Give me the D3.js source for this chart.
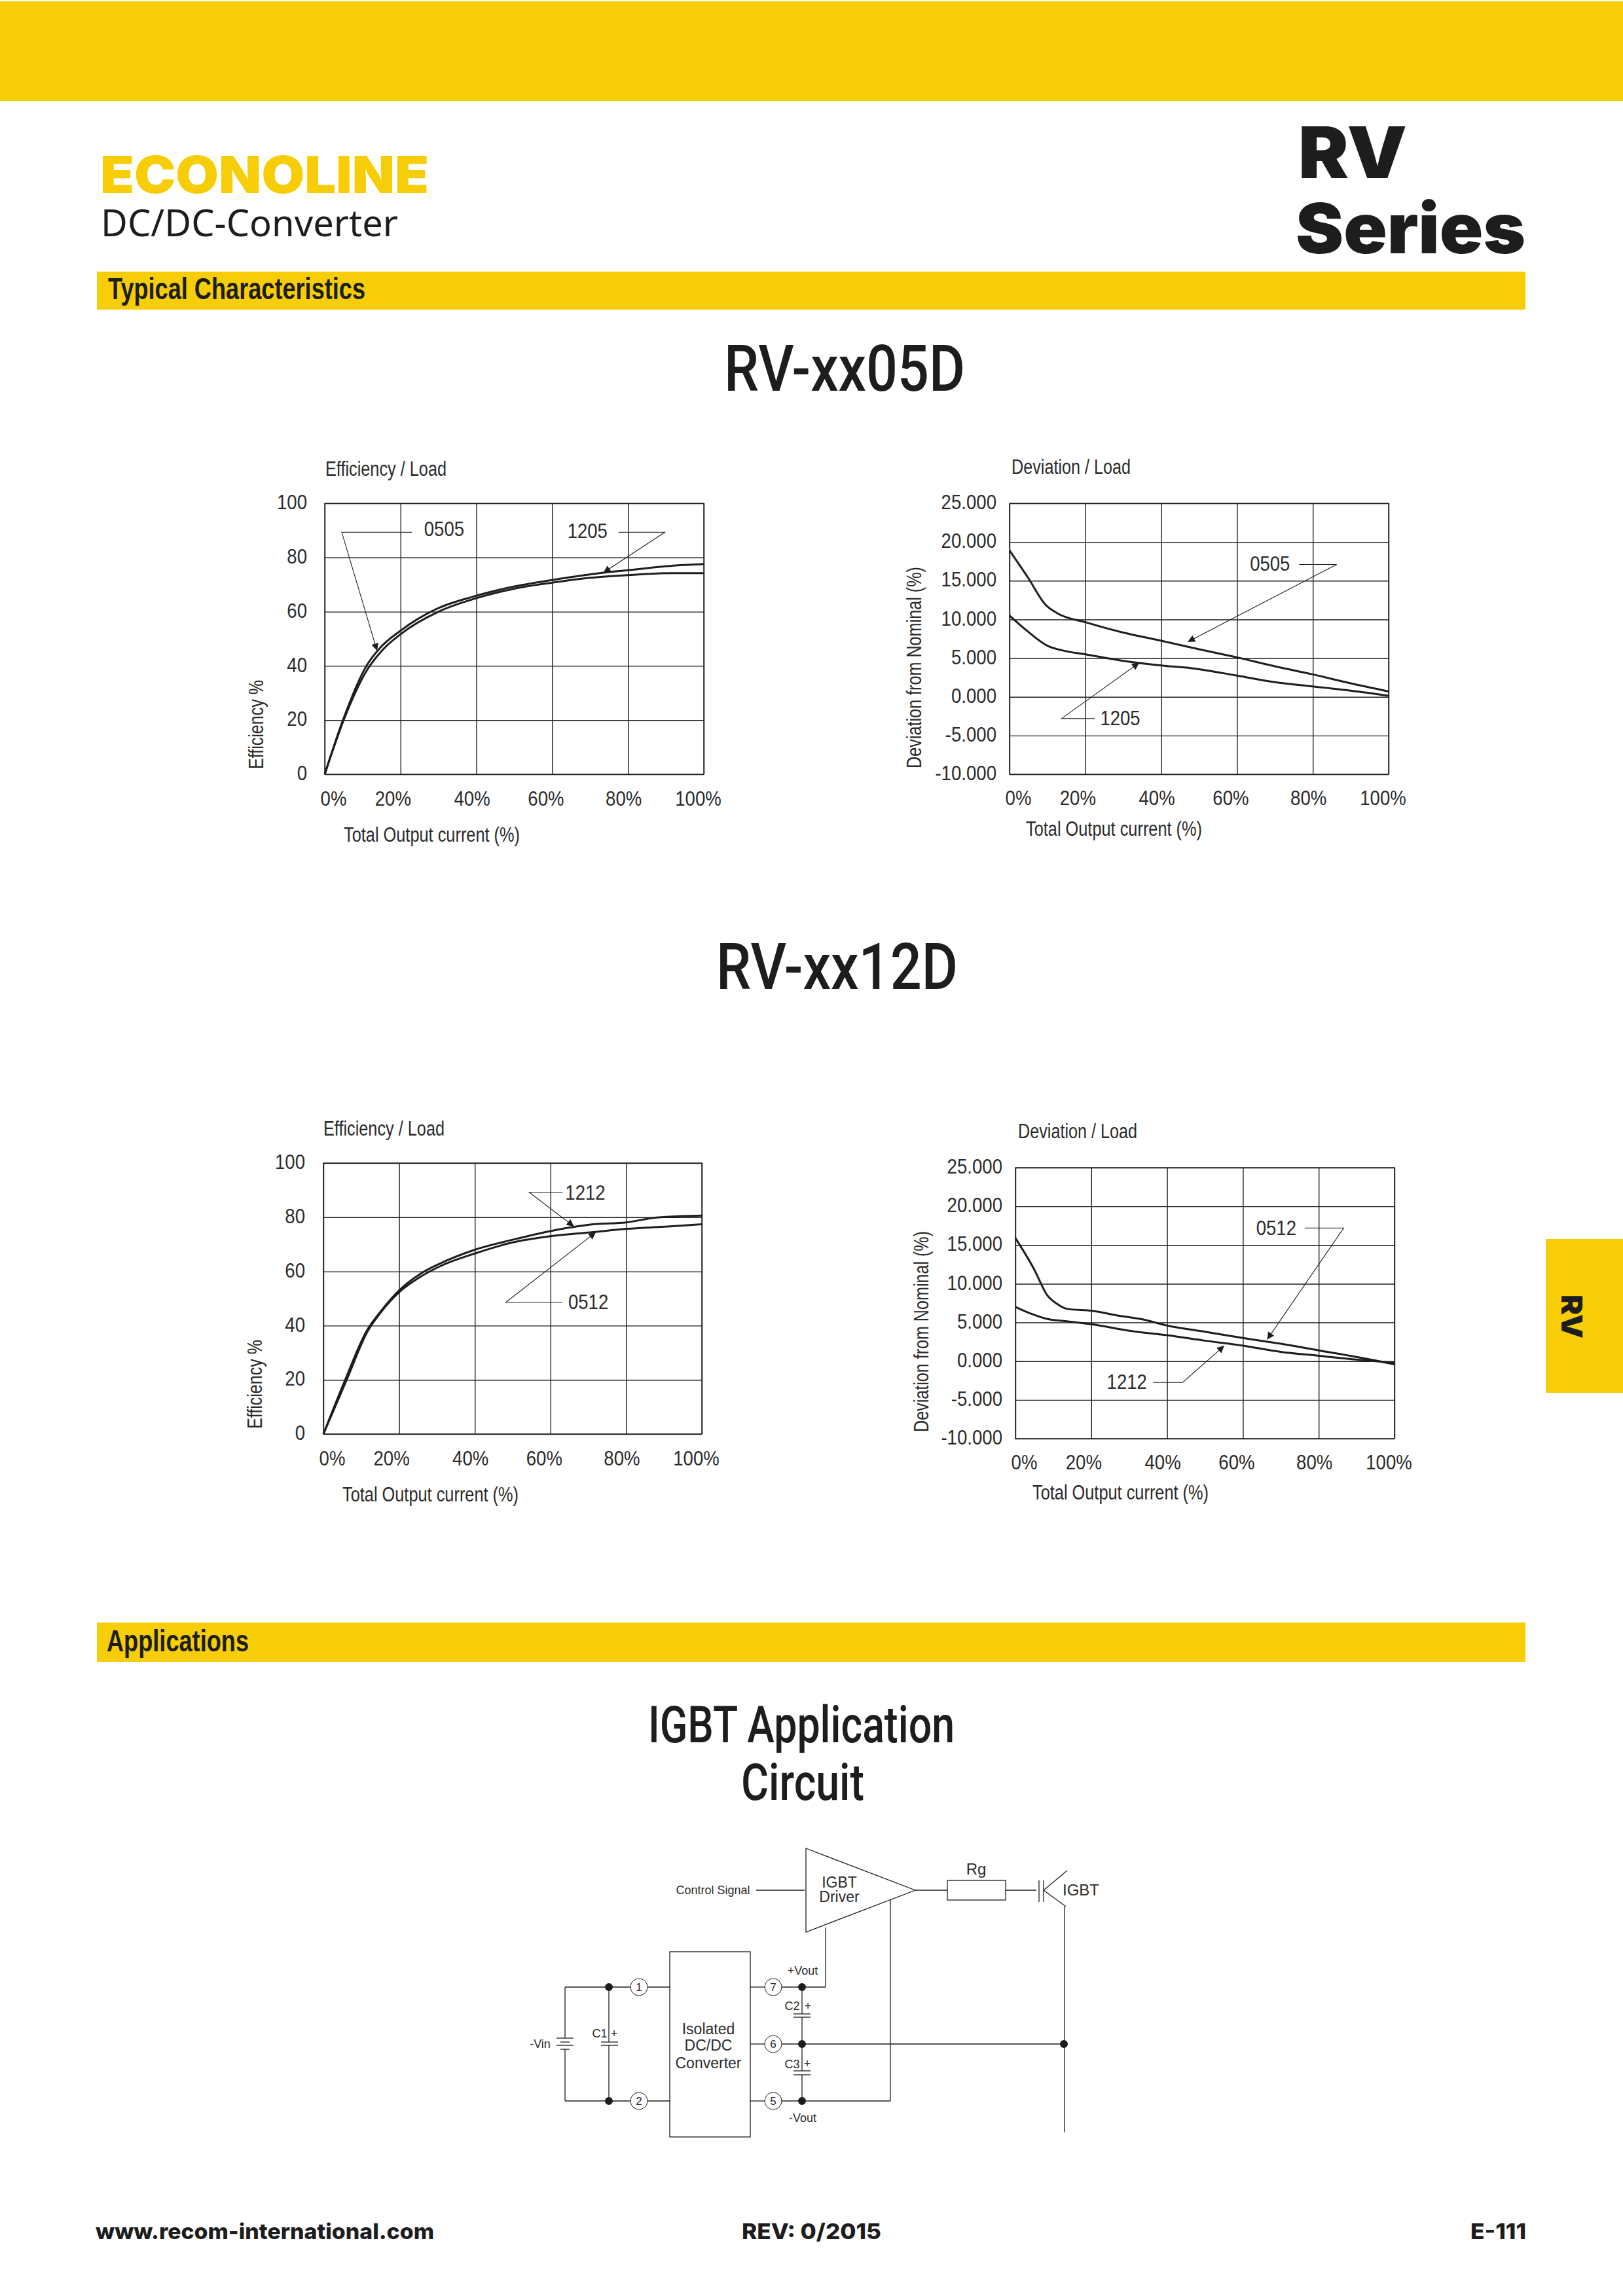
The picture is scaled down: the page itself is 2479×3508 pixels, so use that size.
<!DOCTYPE html>
<html>
<head>
<meta charset="utf-8">
<title>RV Series - Typical Characteristics</title>
<script src="https://cdn.jsdelivr.net/npm/d3@7"></script>
<style>
  html, body { margin: 0; padding: 0; background: #fff; }
  svg { display: block; }
  text { font-family: "Liberation Sans", sans-serif; fill: #2b2b2b; }
</style>
</head>
<body>
<div id="page"></div>
<script>
// axis labels
const loadTicks = [0, 20, 40, 60, 80, 100];
const effTicks = [0, 20, 40, 60, 80, 100];
const devTicks = [-10, -5, 0, 5, 10, 15, 20, 25];

// RV-xx05D efficiency
const effLoad0505 = [0, 5, 11.4, 15, 20, 30, 40, 50, 60, 70, 80, 91, 100];
const eff0505 = [0, 20, 39, 45.5, 51.7, 60, 65, 68.5, 70.7, 72.5, 73.5, 74.2, 74.2];
const effLoad1205 = [0, 4.8, 11, 14.5, 20, 29.5, 39, 49, 60, 73.5, 80, 91, 100];
const eff1205 = [0, 20, 40, 46.5, 53, 61, 65.5, 69, 71.7, 74.4, 75.3, 76.9, 77.6];

// RV-xx05D deviation
const devLoad0505 = [0, 5, 9.5, 12.6, 20.3, 30, 40, 50, 60, 70, 80, 90, 100];
const dev0505 = [18.9, 15.3, 11.9, 10.8, 9.6, 8.3, 7.25, 6.15, 5.1, 3.95, 2.9, 1.75, 0.7];
const devLoad1205 = [0, 4.7, 10, 14.4, 20, 30, 40, 48, 60, 70, 80, 90, 100];
const dev1205 = [10.5, 8.5, 6.6, 5.95, 5.5, 4.65, 4.05, 3.7, 2.75, 1.9, 1.35, 0.8, 0.15];

// RV-xx12D efficiency
const effLoad1212 = [0, 5.6, 11.4, 15, 20, 25.5, 30.8, 40, 50, 60, 71.3, 80, 88, 100];
const eff1212 = [0, 19.5, 38, 45, 53, 59, 62.9, 68, 71.7, 74.9, 77.4, 78.1, 79.9, 80.6];
const effLoad0512 = [0, 6, 11.8, 15, 20, 25.5, 30.8, 40, 50, 60, 71.3, 80, 90, 100];
const eff0512 = [0, 19.5, 38.2, 44.6, 52.3, 57.9, 61.9, 66.6, 70.7, 73, 74.5, 75.7, 76.5, 77.4];

// RV-xx12D deviation
const devLoad0512 = [0, 4.9, 8.4, 11, 13.7, 20.3, 27, 33.5, 40, 50, 60, 70, 80, 90, 100];
const dev0512 = [15.9, 11.9, 8.5, 7.4, 6.75, 6.5, 5.9, 5.4, 4.6, 3.8, 3, 2.25, 1.4, 0.55, -0.4];
const devLoad1212 = [0, 4, 8.4, 12.8, 20.3, 30.4, 40, 50, 60, 70, 80, 90, 100];
const dev1212 = [7, 6.15, 5.45, 5.2, 4.75, 3.9, 3.35, 2.65, 2, 1.2, 0.7, 0.2, -0.2];

const yellow = '#f6cd06';
const ink = '#1d1d1d';
const width = 2479, height = 3508;

const svg = d3.select('#page').append('svg')
  .attr('width', width)
  .attr('height', height)
  .attr('viewBox', `0 0 ${width} ${height}`);

svg.append('rect').attr('width', width).attr('height', height).attr('fill', '#fff');

const defs = svg.append('defs');
defs.append('marker')
  .attr('id', 'arrow')
  .attr('viewBox', '0 0 10 10')
  .attr('refX', 10).attr('refY', 5)
  .attr('markerUnits', 'userSpaceOnUse')
  .attr('markerWidth', 15).attr('markerHeight', 11)
  .attr('orient', 'auto')
  .append('path')
  .attr('d', 'M0,0L10,5L0,10Z')
  .attr('fill', ink);

// text with a fixed drawn width, the brochure fonts are not installed
const fitted = (parent, str, x, y, size, len, opts = {}) => {
  const t = parent.append('text')
    .attr('x', x).attr('y', y)
    .attr('font-size', size)
    .style('font-family', opts.family || null)
    .style('font-weight', opts.weight || null)
    .style('fill', opts.fill || null)
    .attr('textLength', len)
    .attr('lengthAdjust', 'spacingAndGlyphs')
    .text(str);
  return t;
};

// no narrow font here, so squeeze the regular one
const squeeze = (sel, factor) => {
  sel.each(function() {
    d3.select(this)
      .attr('textLength', this.getComputedTextLength() * factor)
      .attr('lengthAdjust', 'spacingAndGlyphs');
  });
};

// ---- page furniture ----
const page = svg.append('g').attr('class', 'page');
page.append('rect').attr('x', 0).attr('y', 2).attr('width', width).attr('height', 152).attr('fill', yellow);
page.append('rect').attr('x', 148).attr('y', 415).attr('width', 2182).attr('height', 58).attr('fill', yellow);
page.append('rect').attr('x', 148).attr('y', 2479).attr('width', 2182).attr('height', 60).attr('fill', yellow);
page.append('rect').attr('x', 2361).attr('y', 1893).attr('width', 118).attr('height', 235).attr('fill', yellow);

fitted(page, 'ECONOLINE', 153, 295, 78, 502, { family: 'Inter', weight: 900, fill: yellow });
fitted(page, 'DC/DC-Converter', 154, 361, 56, 454, { family: '"Noto Sans"', weight: 400, fill: ink });
fitted(page, 'RV', 1983, 272, 108, 166, { family: 'Inter', weight: 900, fill: ink });
fitted(page, 'Series', 1979, 387, 106, 351, { family: 'Inter', weight: 900, fill: ink });
fitted(page, 'Typical Characteristics', 165, 457, 46, 393, { weight: 700, fill: ink });
fitted(page, 'Applications', 163, 2523, 46, 217, { weight: 700, fill: ink });

fitted(page, 'RV-xx05D', 1106, 597, 98, 368, { family: 'Roboto', weight: 500, fill: ink });
fitted(page, 'RV-xx12D', 1094, 1511, 98, 369, { family: 'Roboto', weight: 500, fill: ink });
fitted(page, 'IGBT Application', 990, 2662, 78, 468, { family: 'Roboto', weight: 500, fill: ink });
fitted(page, 'Circuit', 1132, 2750, 78, 188, { family: 'Roboto', weight: 500, fill: ink });

fitted(page, 'www.recom-international.com', 146, 3421, 33, 517, { family: 'Inter', weight: 800, fill: ink });
fitted(page, 'REV: 0/2015', 1133, 3421, 33, 213, { family: 'Inter', weight: 800, fill: ink });
fitted(page, 'E-111', 2246, 3421, 33, 85, { family: 'Inter', weight: 800, fill: ink });

page.append('text')
  .attr('transform', 'translate(2385,1978) rotate(90)')
  .attr('font-size', 44)
  .style('font-family', 'Inter').style('font-weight', 900).style('fill', ink)
  .attr('textLength', 67).attr('lengthAdjust', 'spacingAndGlyphs')
  .text('RV');

// ---- charts ----
const xNudge = [13, -12, -7, -10, -7, -9];

const drawChart = (c) => {
  const w = c.right - c.left, h = c.bottom - c.top;
  const x = d3.scaleLinear().domain([0, 100]).range([0, w]);
  const y = d3.scaleLinear().domain(c.domain).range([h, 0]);
  const g = svg.append('g').attr('transform', `translate(${c.left},${c.top})`);

  // grid comes from the axes, labels get moved afterwards
  const xAxis = g.append('g').attr('transform', `translate(0,${h})`)
    .call(d3.axisBottom(x).tickValues(loadTicks).tickSize(-h).tickPadding(0).tickFormat(d => d + '%'));
  xAxis.selectAll('text')
    .attr('font-size', 31)
    .attr('y', c.xTickY - c.bottom)
    .attr('dy', 0)
    .attr('x', (d, i) => xNudge[i])
    .call(squeeze, 0.89);

  const yAxis = g.append('g')
    .call(d3.axisLeft(y).tickValues(c.ticks).tickSize(-w).tickPadding(0).tickFormat(c.fmt));
  yAxis.selectAll('text')
    .attr('font-size', 31)
    .attr('x', c.yTickX - c.left)
    .attr('dy', '0.28em')
    .attr('text-anchor', 'end')
    .call(squeeze, 0.89);

  g.selectAll('.domain').remove();
  g.selectAll('.tick line').attr('stroke', ink).attr('stroke-width', 1.4);
  g.append('rect').attr('width', w).attr('height', h)
    .attr('fill', 'none').attr('stroke', ink).attr('stroke-width', 1.4);

  // curves
  const line = d3.line().x(d => x(d[0])).y(d => y(d[1])).curve(d3.curveMonotoneX);
  c.series.forEach(s => {
    g.append('path')
      .datum(d3.zip(s.load, s.value))
      .attr('d', line)
      .attr('fill', 'none')
      .attr('stroke', ink)
      .attr('stroke-width', 3);
  });

  // leader lines with the product names
  c.callouts.forEach(k => {
    g.append('path')
      .datum(k.path)
      .attr('d', d3.line().x(d => x(d[0])).y(d => y(d[1])))
      .attr('fill', 'none')
      .attr('stroke', ink)
      .attr('stroke-width', 1.1)
      .attr('marker-end', 'url(#arrow)');
    g.append('text')
      .attr('x', x(k.at[0])).attr('y', y(k.at[1]))
      .attr('dy', '0.36em')
      .attr('text-anchor', 'middle')
      .attr('font-size', 32)
      .text(k.text)
      .call(squeeze, 0.86);
  });

  // chart titles and axis titles
  svg.append('text').attr('x', c.title[0]).attr('y', c.title[1])
    .attr('font-size', 31).attr('textLength', c.title[2]).attr('lengthAdjust', 'spacingAndGlyphs')
    .text(c.titleText);
  svg.append('text').attr('x', c.xLabel[0]).attr('y', c.xLabel[1])
    .attr('font-size', 31).attr('textLength', 269).attr('lengthAdjust', 'spacingAndGlyphs')
    .text('Total Output current (%)');
  svg.append('text')
    .attr('transform', `translate(${c.yLabel[0]},${c.yLabel[1]}) rotate(-90)`)
    .attr('font-size', 31).attr('textLength', c.yLabel[2]).attr('lengthAdjust', 'spacingAndGlyphs')
    .text(c.yLabelText);
};

const fmtEff = d3.format('d');
// the sheet prints a plain hyphen for negatives
const fmtDev = d => d3.format('.3f')(d).replace('\u2212', '-');

drawChart({
  left: 496, right: 1075, top: 769, bottom: 1183,
  domain: [0, 100], ticks: effTicks, fmt: fmtEff,
  xTickY: 1231, yTickX: 469,
  title: [497, 727, 185], titleText: 'Efficiency / Load',
  xLabel: [525, 1286],
  yLabel: [402, 1175, 136], yLabelText: 'Efficiency %',
  series: [{ load: effLoad0505, value: eff0505 }, { load: effLoad1205, value: eff1205 }],
  callouts: [
    { text: '0505', at: [31.5, 90.7], path: [[23, 89.3], [4.5, 89.3], [13.8, 45.6]] },
    { text: '1205', at: [69.3, 90], path: [[77.5, 89.3], [89.7, 89.3], [73.5, 74.4]] }
  ]
});

drawChart({
  left: 1542, right: 2121, top: 769, bottom: 1183,
  domain: [-10, 25], ticks: devTicks, fmt: fmtDev,
  xTickY: 1230, yTickX: 1522,
  title: [1545, 724, 182], titleText: 'Deviation / Load',
  xLabel: [1567, 1277],
  yLabel: [1407, 1174, 308], yLabelText: 'Deviation from Nominal (%)',
  series: [{ load: devLoad0505, value: dev0505 }, { load: devLoad1205, value: dev1205 }],
  callouts: [
    { text: '0505', at: [68.7, 17.27], path: [[76.4, 17.1], [86.3, 17.1], [47, 7.1]] },
    { text: '1205', at: [29.2, -2.68], path: [[22.5, -2.8], [13.7, -2.8], [34.2, 4.4]] }
  ]
});

drawChart({
  left: 494, right: 1072, top: 1777, bottom: 2191,
  domain: [0, 100], ticks: effTicks, fmt: fmtEff,
  xTickY: 2239, yTickX: 466,
  title: [494, 1735, 185], titleText: 'Efficiency / Load',
  xLabel: [523, 2294],
  yLabel: [400, 2183, 136], yLabelText: 'Efficiency %',
  series: [{ load: effLoad1212, value: eff1212 }, { load: effLoad0512, value: eff0512 }],
  callouts: [
    { text: '1212', at: [69.2, 89.2], path: [[63.2, 89.2], [54.4, 89.2], [66.2, 76.6]] },
    { text: '0512', at: [70, 48.8], path: [[63.2, 48.6], [48.2, 48.6], [72, 74.5]] }
  ]
});

drawChart({
  left: 1551, right: 2130, top: 1784, bottom: 2198,
  domain: [-10, 25], ticks: devTicks, fmt: fmtDev,
  xTickY: 2245, yTickX: 1531,
  title: [1555, 1739, 182], titleText: 'Deviation / Load',
  xLabel: [1577, 2291],
  yLabel: [1418, 2188, 307], yLabelText: 'Deviation from Nominal (%)',
  series: [{ load: devLoad0512, value: dev0512 }, { load: devLoad1212, value: dev1212 }],
  callouts: [
    { text: '0512', at: [68.8, 17.27], path: [[76.3, 17.2], [86.6, 17.2], [66.4, 2.8]] },
    { text: '1212', at: [29.4, -2.58], path: [[36.3, -2.75], [44.1, -2.75], [55.1, 2]] }
  ]
});

// ---- IGBT circuit ----
const wires = [
  [863, 3036, 963, 3036], [989, 3036, 1023, 3036],
  [863, 3210, 963, 3210], [989, 3210, 1023, 3210],
  [863, 3036, 863, 3114], [863, 3131, 863, 3210],
  [930, 3036, 930, 3120], [930, 3125, 930, 3210],
  [1146, 3036, 1168, 3036], [1194, 3036, 1261, 3036],
  [1261, 3036, 1261, 2945],
  [1146, 3123, 1168, 3123], [1194, 3123, 1625, 3123],
  [1146, 3210, 1168, 3210], [1194, 3210, 1360, 3210],
  [1360, 3210, 1360, 2903],
  [1225, 3036, 1225, 3077], [1225, 3082, 1225, 3164], [1225, 3170, 1225, 3210],
  [1398, 2888, 1447, 2888], [1536, 2888, 1583, 2888],
  [1155, 2888, 1229, 2888],
  [1594, 2888, 1630, 2858], [1594, 2888, 1628, 2913],
  [1626, 2913, 1626, 3258]
];
const plates = [
  [1587, 2873, 1587, 2906], [1594, 2873, 1594, 2906],
  [918, 3120, 944, 3120], [918, 3125, 944, 3125],
  [1212, 3077, 1238, 3077], [1212, 3082, 1238, 3082],
  [1212, 3164, 1238, 3164], [1212, 3170, 1238, 3170],
  [850, 3114, 876, 3114], [856, 3120, 870, 3120], [850, 3125, 876, 3125], [856, 3131, 870, 3131]
];
const dots = [[930, 3036], [930, 3210], [1225, 3036], [1225, 3123], [1225, 3210], [1625, 3123]];
const pins = [['1', 976, 3036], ['2', 976, 3210], ['7', 1181, 3036], ['6', 1181, 3123], ['5', 1181, 3210]];
const circuitLabels = [
  ['Control Signal', 1089, 2888, 18],
  ['IGBT', 1282, 2876, 23], ['Driver', 1282, 2898, 23],
  ['Rg', 1491, 2855, 24], ['IGBT', 1651, 2887, 24],
  ['Isolated', 1082, 3100, 23], ['DC/DC', 1082, 3125, 23], ['Converter', 1082, 3152, 23],
  ['+Vout', 1226, 3011, 18], ['-Vout', 1226, 3236, 18], ['-Vin', 825, 3123, 18],
  ['C1', 916, 3107, 18], ['+', 938, 3107, 18],
  ['C2', 1210, 3065, 18], ['+', 1234, 3065, 18],
  ['C3', 1210, 3154, 18], ['+', 1233, 3153, 18]
];

const circuit = svg.append('g').attr('class', 'circuit');
circuit.append('path').attr('d', 'M1231,2824L1398,2888L1231,2952Z').attr('fill', 'none').attr('stroke', ink).attr('stroke-width', 1.3);
circuit.append('rect').attr('x', 1447).attr('y', 2873).attr('width', 89).attr('height', 30).attr('fill', 'none').attr('stroke', ink).attr('stroke-width', 1.3);
circuit.append('rect').attr('x', 1023).attr('y', 2982).attr('width', 123).attr('height', 283).attr('fill', 'none').attr('stroke', ink).attr('stroke-width', 1.3);

circuit.selectAll('line.wire').data(wires.concat(plates)).join('line')
  .attr('class', 'wire')
  .attr('x1', d => d[0]).attr('y1', d => d[1]).attr('x2', d => d[2]).attr('y2', d => d[3])
  .attr('stroke', ink).attr('stroke-width', 1.3);
circuit.selectAll('circle.dot').data(dots).join('circle')
  .attr('class', 'dot')
  .attr('cx', d => d[0]).attr('cy', d => d[1]).attr('r', 6).attr('fill', ink);
circuit.selectAll('circle.pin').data(pins).join('circle')
  .attr('class', 'pin')
  .attr('cx', d => d[1]).attr('cy', d => d[2]).attr('r', 13)
  .attr('fill', '#fff').attr('stroke', ink).attr('stroke-width', 1);
circuit.selectAll('text.pin').data(pins).join('text')
  .attr('class', 'pin')
  .attr('x', d => d[1]).attr('y', d => d[2]).attr('dy', '0.36em')
  .attr('text-anchor', 'middle').attr('font-size', 17)
  .text(d => d[0]);
circuit.selectAll('text.lab').data(circuitLabels).join('text')
  .attr('class', 'lab')
  .attr('x', d => d[1]).attr('y', d => d[2]).attr('dy', '0.36em')
  .attr('text-anchor', 'middle').attr('font-size', d => d[3])
  .text(d => d[0]);
</script>
</body>
</html>
